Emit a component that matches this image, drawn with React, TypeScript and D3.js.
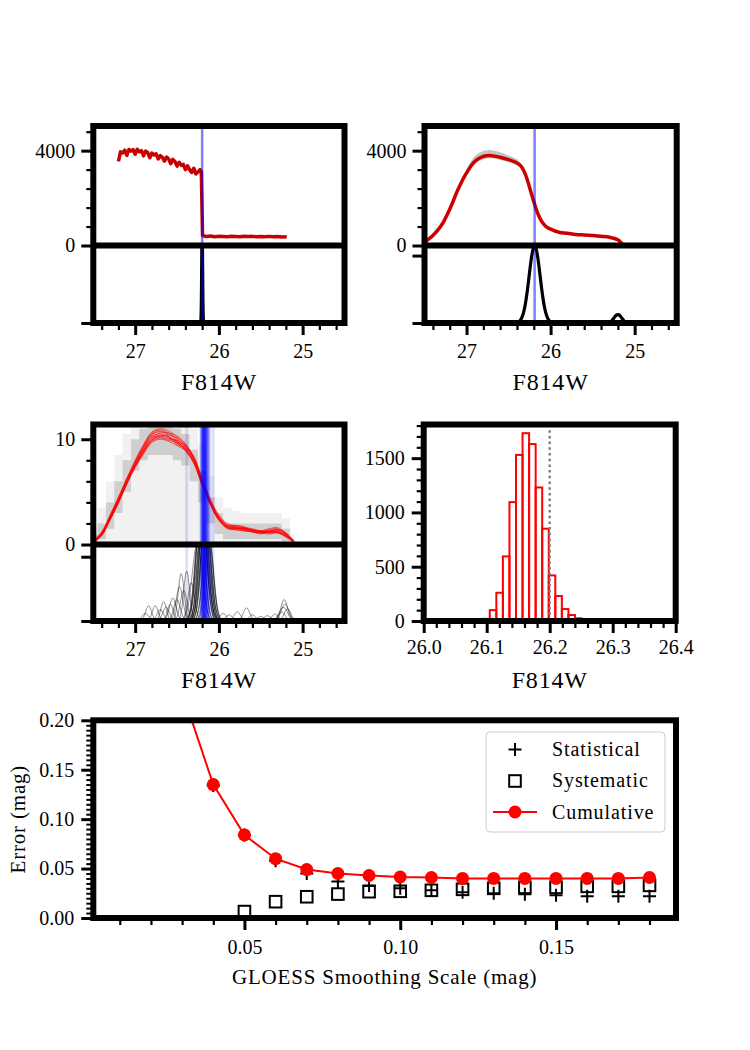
import React, { useRef, useEffect } from 'react';
import * as d3 from 'd3';

type Peak = [number, number, number]; // centre (mag), height, sigma (mag)

const SERIF = '"Liberation Serif", "Times New Roman", serif';

// Shared magnitude grid (bright to faint) and F814W ticks
const MAG_GRID = [27.5, 27.4, 27.3, 27.2, 27.1, 27.0, 26.9, 26.8, 26.7, 26.6, 26.5, 26.4, 26.3, 26.2, 26.1, 26.0, 25.9, 25.8, 25.7, 25.6, 25.5, 25.4, 25.3, 25.2, 25.1];
const MAG_TICKS = [27, 26, 25];
const MAG_MINOR = [27.4, 27.2, 26.8, 26.6, 26.4, 26.2, 25.8, 25.6, 25.4, 25.2, 24.8, 24.6];

// Edge-detector kernel profile, sampled from -3 to +3 sigma
const BUMP_T = [-3, -2.75, -2.5, -2.25, -2, -1.75, -1.5, -1.25, -1, -0.75, -0.5, -0.25, 0, 0.25, 0.5, 0.75, 1, 1.25, 1.5, 1.75, 2, 2.25, 2.5, 2.75, 3];
const BUMP_SHAPE = [0.011, 0.023, 0.044, 0.08, 0.135, 0.216, 0.325, 0.458, 0.607, 0.755, 0.882, 0.969, 1, 0.969, 0.882, 0.755, 0.607, 0.458, 0.325, 0.216, 0.135, 0.08, 0.044, 0.023, 0.011];

// Top left: unsmoothed luminosity function, one realisation
const TL_MAG = [27.2, 27.175, 27.15, 27.125, 27.1, 27.075, 27.05, 27.025, 27.0, 26.975, 26.95, 26.925, 26.9, 26.875, 26.85, 26.825, 26.8, 26.775, 26.75, 26.725, 26.7, 26.675, 26.65, 26.625, 26.6, 26.575, 26.55, 26.525, 26.5, 26.475, 26.45, 26.425, 26.4, 26.375, 26.35, 26.325, 26.3, 26.275, 26.25, 26.225, 26.21, 26.195, 26.15, 26.1, 26.05, 26.0, 25.95, 25.9, 25.85, 25.8, 25.75, 25.7, 25.65, 25.6, 25.55, 25.5, 25.45, 25.4, 25.35, 25.3, 25.25, 25.19];
const TL_COUNT = [3550, 3950, 3900, 4020, 3800, 4050, 3980, 4040, 3850, 4060, 3950, 4000, 3780, 3980, 3920, 3700, 3900, 3820, 3870, 3650, 3790, 3720, 3560, 3730, 3650, 3450, 3630, 3540, 3350, 3510, 3380, 3420, 3200, 3360, 3200, 3080, 3260, 3020, 3100, 3200, 3100, 420, 380, 400, 370, 390, 380, 370, 390, 380, 370, 390, 375, 385, 370, 380, 370, 385, 365, 375, 360, 370];
const TL_EDGE = 26.2;
const TL_PEAKS: Peak[] = [[26.2, 1.4, 0.006]];

// Top right: GLOESS-smoothed luminosity function with spread of realisations
const TR_MAG = [27.5, 27.4, 27.3, 27.2, 27.1, 27.0, 26.9, 26.8, 26.7, 26.6, 26.5, 26.4, 26.35, 26.3, 26.25, 26.2, 26.15, 26.1, 26.05, 26.0, 25.9, 25.8, 25.7, 25.6, 25.5, 25.4, 25.3, 25.2, 25.15, 25.12];
const TR_COUNT = [140, 420, 840, 1530, 2370, 3060, 3550, 3760, 3790, 3720, 3620, 3480, 3340, 3000, 2450, 1850, 1330, 980, 790, 690, 560, 515, 465, 445, 420, 390, 350, 240, 80, 0];
const TR_GRAY_HI = [190, 480, 910, 1610, 2480, 3220, 3770, 3990, 4020, 3930, 3800, 3640, 3440, 3090, 2540, 1930, 1400, 1030, 830, 730, 600, 550, 500, 480, 450, 420, 380, 270, 110, 20];
const TR_GRAY_LO = [100, 370, 780, 1460, 2280, 2950, 3420, 3640, 3680, 3610, 3520, 3380, 3260, 2920, 2370, 1780, 1270, 930, 750, 650, 520, 480, 430, 410, 390, 360, 320, 210, 50, 0];
const TR_EDGE = 26.19;
const TR_PEAKS: Peak[] = [[26.19, 0.99, 0.066], [25.2, 0.11, 0.045]];

// Middle left: bootstrap realisations
const ML_CURVES = [
  [0.3, 1.1, 2.7, 4.4, 6.3, 8.0, 9.5, 10.7, 11.0, 10.8, 10.2, 9.5, 8.2, 6.0, 3.9, 2.4, 1.7, 1.6, 1.4, 1.2, 1.1, 1.2, 1.2, 0.8, 0.2],
  [0.2, 0.9, 2.4, 4.0, 5.8, 7.4, 8.8, 9.9, 10.2, 10.0, 9.9, 9.3, 8.1, 5.8, 3.8, 2.3, 1.5, 1.4, 1.3, 1.2, 1.1, 1.3, 1.4, 1.0, 0.2],
  [0.3, 1.0, 2.6, 4.2, 6.0, 7.6, 9.0, 10.1, 10.6, 10.5, 9.8, 8.9, 7.7, 5.6, 3.7, 2.4, 1.8, 1.7, 1.6, 1.4, 1.3, 1.1, 1.2, 0.9, 0.3],
  [0.4, 1.2, 2.8, 4.5, 6.2, 7.8, 9.2, 10.3, 10.5, 10.2, 9.6, 9.2, 8.3, 6.2, 4.2, 2.7, 1.9, 1.7, 1.5, 1.2, 1.0, 1.2, 1.4, 1.1, 0.3],
  [0.2, 0.8, 2.3, 3.9, 5.7, 7.3, 8.6, 9.7, 10.0, 9.8, 9.4, 8.9, 7.9, 5.9, 4.1, 2.6, 1.7, 1.5, 1.6, 1.5, 1.3, 1.3, 1.2, 0.8, 0.2],
  [0.3, 1.0, 2.5, 4.1, 6.0, 7.7, 9.2, 10.4, 10.8, 10.3, 9.7, 9.0, 7.8, 5.7, 3.9, 2.5, 1.8, 1.8, 1.7, 1.3, 1.2, 1.4, 1.5, 1.0, 0.3],
  [0.3, 1.1, 2.6, 4.3, 6.1, 7.6, 9.0, 10.2, 10.3, 10.4, 10.1, 9.4, 8.2, 6.1, 4.0, 2.4, 1.6, 1.5, 1.4, 1.3, 1.2, 1.2, 1.3, 0.9, 0.2],
  [0.2, 0.9, 2.4, 4.0, 5.9, 7.5, 8.9, 9.9, 10.4, 10.2, 9.5, 9.1, 8.0, 5.9, 4.0, 2.6, 1.8, 1.6, 1.5, 1.4, 1.2, 1.1, 1.1, 0.7, 0.2],
  [0.3, 1.0, 2.5, 4.2, 6.1, 7.9, 9.4, 10.6, 10.9, 10.6, 10.0, 9.2, 7.9, 5.8, 3.8, 2.3, 1.6, 1.5, 1.5, 1.4, 1.3, 1.5, 1.6, 1.1, 0.3],
  [0.2, 1.0, 2.5, 4.1, 5.9, 7.4, 8.7, 9.8, 10.1, 9.9, 9.7, 9.4, 8.4, 6.3, 4.3, 2.8, 2.0, 1.8, 1.6, 1.3, 1.1, 1.0, 1.1, 0.8, 0.2],
  [0.3, 1.1, 2.7, 4.4, 6.2, 7.8, 9.3, 10.5, 10.7, 10.6, 10.3, 9.6, 8.1, 5.9, 3.9, 2.5, 1.7, 1.6, 1.5, 1.3, 1.2, 1.3, 1.4, 1.0, 0.2],
  [0.2, 0.9, 2.4, 4.0, 5.8, 7.5, 8.9, 10.0, 10.3, 10.1, 9.8, 9.0, 7.8, 5.7, 3.8, 2.4, 1.6, 1.4, 1.3, 1.2, 1.2, 1.2, 1.2, 0.8, 0.2],
];
const ML_GRAY_TOP = [1.5, 3.5, 6, 8.5, 10.5, 12, 12, 12, 12, 12, 12, 12, 11, 9.5, 6.5, 4.5, 3.5, 3.2, 3.0, 3.0, 3.0, 3.0, 3.0, 2.5, 1.0];
const ML_GRAY_LO = [0, 0.5, 1.5, 3, 5, 7, 8, 8.5, 8.5, 8.5, 8, 7.5, 6, 4, 2, 1, 0.5, 0.5, 0.5, 0.5, 0.5, 0.5, 0.5, 0.3, 0];
const ML_GRAY_HI = [1, 2, 4, 6, 8, 10, 11, 11.5, 11.5, 11.5, 11, 10.5, 9, 7, 4.5, 3, 2, 2, 2, 2, 2, 2, 2, 1.5, 0.5];
const ML_EDGES = [
  26.385, 26.215, 26.21, 26.205, 26.2, 26.2, 26.195, 26.19, 26.19, 26.185, 26.185, 26.18, 26.18, 26.18,
  26.175, 26.175, 26.17, 26.17, 26.165, 26.165, 26.16, 26.16, 26.155, 26.15, 26.15, 26.145, 26.14,
  26.135, 26.13, 26.12, 26.115, 26.07,
];
const ML_PEAKS: Peak[] = [
  [26.23, 1.3, 0.055], [26.22, 1.5, 0.05], [26.21, 1.4, 0.06], [26.2, 1.6, 0.05], [26.2, 1.2, 0.065],
  [26.19, 1.5, 0.055], [26.19, 1.3, 0.05], [26.18, 1.7, 0.05], [26.18, 1.4, 0.06], [26.17, 1.5, 0.055],
  [26.17, 1.2, 0.05], [26.16, 1.6, 0.05], [26.16, 1.3, 0.06], [26.15, 1.4, 0.055], [26.14, 1.2, 0.05],
  [26.13, 1.3, 0.055], [26.12, 1.1, 0.05], [26.24, 1.1, 0.05], [26.26, 1.0, 0.06], [26.11, 1.0, 0.05],
  [26.385, 0.65, 0.035], [26.45, 0.62, 0.035], [26.47, 0.45, 0.04], [26.42, 0.4, 0.04], [26.33, 0.5, 0.04],
  [26.55, 0.3, 0.04], [26.58, 0.22, 0.035], [26.63, 0.18, 0.04], [26.7, 0.15, 0.04], [26.76, 0.2, 0.035],
  [26.84, 0.2, 0.035], [26.88, 0.1, 0.04], [26.66, 0.25, 0.035], [26.5, 0.28, 0.04],
  [25.95, 0.1, 0.04], [25.88, 0.08, 0.04], [25.78, 0.12, 0.04], [25.67, 0.17, 0.04], [25.6, 0.08, 0.04],
  [25.5, 0.06, 0.04], [25.42, 0.07, 0.04], [25.33, 0.09, 0.04], [25.22, 0.28, 0.04], [25.21, 0.22, 0.045],
  [25.18, 0.16, 0.04], [25.25, 0.12, 0.04], [25.23, 0.18, 0.05],
];

// Middle right: distribution of recovered TRGB magnitudes
const HIST_EDGES = [26.0945, 26.1049, 26.1153, 26.1257, 26.1361, 26.1465, 26.1569, 26.1673, 26.1777, 26.1881, 26.1985, 26.2089, 26.2193, 26.2297, 26.2401, 26.2505];
const HIST_COUNTS = [20, 100, 260, 595, 1095, 1530, 1730, 1630, 1230, 850, 420, 230, 110, 55, 25];
const HIST_REF = 26.2;

// Bottom: error budget against smoothing scale
const SCALE = [0.03, 0.04, 0.05, 0.06, 0.07, 0.08, 0.09, 0.10, 0.11, 0.12, 0.13, 0.14, 0.15, 0.16, 0.17, 0.18];
const STATISTICAL = [0.229, 0.134, 0.084, 0.058, 0.045, 0.037, 0.033, 0.030, 0.028, 0.026, 0.025, 0.024, 0.023, 0.022, 0.022, 0.022];
const SYS_SCALE = [0.05, 0.06, 0.07, 0.08, 0.09, 0.10, 0.11, 0.12, 0.13, 0.14, 0.15, 0.16, 0.17, 0.18];
const SYSTEMATIC = [0.0065, 0.0165, 0.0215, 0.0242, 0.0266, 0.027, 0.028, 0.029, 0.030, 0.031, 0.031, 0.032, 0.032, 0.033];
const CUMULATIVE = [0.229, 0.135, 0.084, 0.060, 0.049, 0.045, 0.043, 0.0415, 0.041, 0.040, 0.040, 0.040, 0.040, 0.040, 0.040, 0.041];

interface Box { x0: number; x1: number; y0: number; y1: number; ym?: number }
const TL_BOX: Box = { x0: 93.3, x1: 344.5, y0: 126, ym: 245.5, y1: 323 };
const TR_BOX: Box = { x0: 424.5, x1: 676.7, y0: 126, ym: 245.5, y1: 323 };
const ML_BOX: Box = { x0: 93.3, x1: 344.5, y0: 424.5, ym: 544.5, y1: 621 };
const MR_BOX: Box = { x0: 423.7, x1: 675.7, y0: 424.5, y1: 621 };
const BT_BOX: Box = { x0: 93.3, x1: 676, y0: 720.3, y1: 918 };

const App: React.FC = () => {
  const svgRef = useRef<SVGSVGElement>(null);

  useEffect(() => {
    if (!svgRef.current) return;
    const svg = d3.select(svgRef.current);
    svg.selectAll('*').remove();
    const defs = svg.append('defs');

    let clipId = 0;
    const clipped = (x0: number, y0: number, x1: number, y1: number) => {
      const id = `clip-${clipId++}`;
      defs.append('clipPath').attr('id', id)
        .append('rect').attr('x', x0).attr('y', y0).attr('width', x1 - x0).attr('height', y1 - y0);
      return svg.append('g').attr('clip-path', `url(#${id})`);
    };

    const addAxis = (gen: any, tx: number, ty: number, width: number, size = 20) => {
      const a = svg.append('g').attr('transform', `translate(${tx},${ty})`).call(gen);
      a.attr('font-family', SERIF);
      a.select('.domain').remove();
      a.selectAll('.tick line').attr('stroke', '#000').attr('stroke-width', width);
      a.selectAll('.tick text')
        .attr('font-family', SERIF).attr('font-size', size).attr('fill', '#000');
      return a;
    };

    const frame = (box: Box) => {
      svg.append('rect')
        .attr('x', box.x0).attr('y', box.y0)
        .attr('width', box.x1 - box.x0).attr('height', box.y1 - box.y0)
        .attr('fill', 'none').attr('stroke', '#000').attr('stroke-width', 6);
      if (box.ym !== undefined) {
        svg.append('line')
          .attr('x1', box.x0).attr('x2', box.x1).attr('y1', box.ym).attr('y2', box.ym)
          .attr('stroke', '#000').attr('stroke-width', 6);
      }
    };

    const label = (text: string, x: number, y: number, size: number, rotate = false) => {
      const t = svg.append('text')
        .attr('text-anchor', 'middle')
        .attr('font-family', SERIF).attr('font-size', size).attr('fill', '#000')
        .attr('letter-spacing', 0.8)
        .text(text);
      if (rotate) t.attr('transform', `translate(${x},${y}) rotate(-90)`);
      else t.attr('x', x).attr('y', y);
    };

    const bumpLine = (x: d3.ScaleLinear<number, number>, y: d3.ScaleLinear<number, number>) =>
      (p: Peak) => d3.line<number>()
        .x((_, i) => x(p[0] + BUMP_T[i] * p[2]))
        .y((v) => y(p[1] * v))
        .curve(d3.curveCatmullRom)(BUMP_SHAPE);

    const none = () => '';

    // Frame, ticks and label for the split luminosity-function panels
    const splitAxes = (
      box: Box,
      x: d3.ScaleLinear<number, number>,
      yU: d3.ScaleLinear<number, number>,
      yL: d3.ScaleLinear<number, number>,
      uMajor: number[], uMinor: number[], lowTicks: number[],
    ) => {
      frame(box);
      addAxis(d3.axisBottom(x).tickValues(MAG_TICKS).tickSize(12).tickPadding(9).tickFormat(d3.format('d')), 0, box.y1, 3);
      addAxis(d3.axisBottom(x).tickValues(MAG_MINOR).tickSize(7).tickFormat(none), 0, box.y1, 2.2);
      addAxis(d3.axisLeft(yU).tickValues(uMajor).tickSize(12).tickPadding(6).tickFormat(d3.format('d')), box.x0, 0, 3);
      addAxis(d3.axisLeft(yU).tickValues(uMinor).tickSize(7).tickFormat(none), box.x0, 0, 2.2);
      addAxis(d3.axisLeft(yL).tickValues(lowTicks).tickSize(12).tickFormat(none), box.x0, 0, 3);
      label('F814W', (box.x0 + box.x1) / 2, box.y1 + 67, 24);
    };

    // ---- top left ----
    {
      const b = TL_BOX;
      const x = d3.scaleLinear().domain([27.5, 24.5]).range([b.x0, b.x1]);
      const yU = d3.scaleLinear().domain([0, 5040]).range([b.ym!, b.y0]);
      const yL = d3.scaleLinear().domain([0, 1]).range([b.y1, b.ym!]);

      const up = clipped(b.x0, b.y0, b.x1, b.ym!);
      up.append('path')
        .datum(d3.zip(TL_MAG, TL_COUNT))
        .attr('d', d3.line<number[]>().x(d => x(d[0])).y(d => yU(d[1])))
        .attr('fill', 'none').attr('stroke', '#c80000').attr('stroke-width', 3.5)
        .attr('stroke-linejoin', 'round');

      const low = clipped(b.x0, b.ym!, b.x1, b.y1);
      low.selectAll('path').data(TL_PEAKS).join('path')
        .attr('d', bumpLine(x, yL))
        .attr('fill', 'none').attr('stroke', '#000').attr('stroke-width', 3);

      const all = clipped(b.x0, b.y0, b.x1, b.y1);
      all.append('line')
        .attr('x1', x(TL_EDGE)).attr('x2', x(TL_EDGE)).attr('y1', b.y0).attr('y2', b.y1)
        .attr('stroke', '#0000ff').attr('stroke-opacity', 0.5).attr('stroke-width', 2.5);

      splitAxes(b, x, yU, yL, [0, 4000], [800, 1600, 2400, 3200, 4800], [0]);
    }

    // ---- top right ----
    {
      const b = TR_BOX;
      const x = d3.scaleLinear().domain([27.5, 24.5]).range([b.x0, b.x1]);
      const yU = d3.scaleLinear().domain([0, 5040]).range([b.ym!, b.y0]);
      const yL = d3.scaleLinear().domain([0, 1]).range([b.y1, b.ym!]);

      const up = clipped(b.x0, b.y0, b.x1, b.ym!);
      up.append('path')
        .datum(d3.range(TR_MAG.length))
        .attr('d', d3.area<number>().x(i => x(TR_MAG[i])).y0(i => yU(TR_GRAY_LO[i])).y1(i => yU(TR_GRAY_HI[i])).curve(d3.curveCatmullRom))
        .attr('fill', '#c4c4c4');
      up.append('path')
        .datum(d3.zip(TR_MAG, TR_COUNT))
        .attr('d', d3.line<number[]>().x(d => x(d[0])).y(d => yU(d[1])).curve(d3.curveCatmullRom))
        .attr('fill', 'none').attr('stroke', '#cc0000').attr('stroke-width', 3.5);

      const low = clipped(b.x0, b.ym!, b.x1, b.y1);
      low.selectAll('path').data(TR_PEAKS).join('path')
        .attr('d', bumpLine(x, yL))
        .attr('fill', 'none').attr('stroke', '#000').attr('stroke-width', 3.2);

      const all = clipped(b.x0, b.y0, b.x1, b.y1);
      all.append('line')
        .attr('x1', x(TR_EDGE)).attr('x2', x(TR_EDGE)).attr('y1', b.y0).attr('y2', b.y1)
        .attr('stroke', '#0000ff').attr('stroke-opacity', 0.5).attr('stroke-width', 2.5);

      splitAxes(b, x, yU, yL, [0, 4000], [800, 1600, 2400, 3200, 4800], [0, 0.87]);
    }

    // ---- middle left ----
    {
      const b = ML_BOX;
      const x = d3.scaleLinear().domain([27.5, 24.5]).range([b.x0, b.x1]);
      const yU = d3.scaleLinear().domain([0, 11.4]).range([b.ym!, b.y0]);
      const yL = d3.scaleLinear().domain([0, 1]).range([b.y1, b.ym!]);
      const idx = d3.range(MAG_GRID.length);

      const up = clipped(b.x0, b.y0, b.x1, b.ym!);
      up.append('path')
        .datum(idx)
        .attr('d', d3.area<number>().x(i => x(MAG_GRID[i])).y0(yU(0)).y1(i => yU(ML_GRAY_TOP[i])).curve(d3.curveStep))
        .attr('fill', '#000').attr('fill-opacity', 0.055);
      up.append('path')
        .datum(idx)
        .attr('d', d3.area<number>().x(i => x(MAG_GRID[i])).y0(i => yU(ML_GRAY_LO[i])).y1(i => yU(ML_GRAY_HI[i])).curve(d3.curveStep))
        .attr('fill', '#000').attr('fill-opacity', 0.14);
      up.selectAll('path.rl').data(ML_CURVES).join('path')
        .attr('class', 'rl')
        .attr('d', vals => d3.line<number>().x((_, i) => x(MAG_GRID[i])).y(v => yU(v)).curve(d3.curveCatmullRom)(vals))
        .attr('fill', 'none').attr('stroke', '#ff0000').attr('stroke-opacity', 0.7).attr('stroke-width', 0.9);

      const low = clipped(b.x0, b.ym!, b.x1, b.y1);
      low.selectAll('path').data(ML_PEAKS).join('path')
        .attr('d', bumpLine(x, yL))
        .attr('fill', 'none').attr('stroke', '#000').attr('stroke-opacity', 0.55).attr('stroke-width', 0.8);

      const all = clipped(b.x0, b.y0, b.x1, b.y1);
      all.selectAll('line').data(ML_EDGES).join('line')
        .attr('x1', d => x(d)).attr('x2', d => x(d)).attr('y1', b.y0).attr('y2', b.y1)
        .attr('stroke', '#0000ff').attr('stroke-opacity', 0.13).attr('stroke-width', 3);

      splitAxes(b, x, yU, yL, [0, 10], [2, 4, 6, 8], [0, 0.84]);
    }

    // ---- middle right ----
    {
      const b = MR_BOX;
      const x = d3.scaleLinear().domain([26.0, 26.4]).range([b.x0, b.x1]);
      const y = d3.scaleLinear().domain([0, 1810]).range([b.y1, b.y0]);

      const g = clipped(b.x0, b.y0, b.x1, b.y1);
      g.selectAll('rect').data(HIST_COUNTS).join('rect')
        .attr('x', (_, i) => x(HIST_EDGES[i]))
        .attr('width', (_, i) => x(HIST_EDGES[i + 1]) - x(HIST_EDGES[i]))
        .attr('y', d => y(d))
        .attr('height', d => y(0) - y(d))
        .attr('fill', 'none').attr('stroke', '#ff0000').attr('stroke-width', 2);
      g.append('line')
        .attr('x1', x(HIST_REF)).attr('x2', x(HIST_REF)).attr('y1', b.y0).attr('y2', b.y1)
        .attr('stroke', '#808080').attr('stroke-width', 2.5).attr('stroke-dasharray', '2.5,3.2');

      frame(b);
      addAxis(d3.axisBottom(x).tickValues([26.0, 26.1, 26.2, 26.3, 26.4]).tickSize(12).tickPadding(7).tickFormat(d3.format('.1f')), 0, b.y1, 3);
      addAxis(d3.axisBottom(x).tickValues(d3.range(26.02, 26.4, 0.02).filter(v => Math.abs(v * 10 - Math.round(v * 10)) > 0.01)).tickSize(7).tickFormat(none), 0, b.y1, 2.2);
      addAxis(d3.axisLeft(y).tickValues([0, 500, 1000, 1500]).tickSize(12).tickPadding(7).tickFormat(d3.format('d')), b.x0, 0, 3);
      addAxis(d3.axisLeft(y).tickValues(d3.range(100, 1810, 100).filter(v => v % 500 !== 0)).tickSize(7).tickFormat(none), b.x0, 0, 2.2);
      label('F814W', (b.x0 + b.x1) / 2, b.y1 + 67, 24);
    }

    // ---- bottom: error budget ----
    {
      const b = BT_BOX;
      const x = d3.scaleLinear().domain([0.0015, 0.1885]).range([b.x0, b.x1]);
      const y = d3.scaleLinear().domain([0, 0.2]).range([b.y1, b.y0]);
      const g = clipped(b.x0, b.y0, b.x1, b.y1);

      g.selectAll('path.stat').data(d3.zip(SCALE, STATISTICAL)).join('path')
        .attr('class', 'stat')
        .attr('d', d => `M${x(d[0]) - 6.5},${y(d[1])}H${x(d[0]) + 6.5}M${x(d[0])},${y(d[1]) - 6.5}V${y(d[1]) + 6.5}`)
        .attr('stroke', '#000').attr('stroke-width', 2).attr('fill', 'none');

      g.selectAll('rect.sys').data(d3.zip(SYS_SCALE, SYSTEMATIC)).join('rect')
        .attr('class', 'sys')
        .attr('x', d => x(d[0]) - 5.8).attr('y', d => y(d[1]) - 5.8)
        .attr('width', 11.6).attr('height', 11.6)
        .attr('fill', 'none').attr('stroke', '#000').attr('stroke-width', 2);

      g.append('path')
        .datum(d3.zip(SCALE, CUMULATIVE))
        .attr('d', d3.line<number[]>().x(d => x(d[0])).y(d => y(d[1])))
        .attr('fill', 'none').attr('stroke', '#ff0000').attr('stroke-width', 2);
      g.selectAll('circle').data(d3.zip(SCALE, CUMULATIVE)).join('circle')
        .attr('cx', d => x(d[0])).attr('cy', d => y(d[1])).attr('r', 6.5)
        .attr('fill', '#ff0000');

      frame(b);
      addAxis(d3.axisBottom(x).tickValues([0.05, 0.1, 0.15]).tickSize(12).tickPadding(10).tickFormat(d3.format('.2f')), 0, b.y1, 3);
      addAxis(d3.axisBottom(x).tickValues([0.01, 0.02, 0.03, 0.04, 0.06, 0.07, 0.08, 0.09, 0.11, 0.12, 0.13, 0.14, 0.16, 0.17, 0.18]).tickSize(7).tickFormat(none), 0, b.y1, 2.2);
      addAxis(d3.axisLeft(y).tickValues([0, 0.05, 0.1, 0.15, 0.2]).tickSize(12).tickPadding(7).tickFormat(d3.format('.2f')), b.x0, 0, 3);
      addAxis(d3.axisLeft(y).tickValues(d3.range(1, 40).filter(k => k % 10 !== 0).map(k => k * 0.005)).tickSize(7).tickFormat(none), b.x0, 0, 2);
      label('GLOESS Smoothing Scale (mag)', (b.x0 + b.x1) / 2, 984, 21);
      label('Error (mag)', 25, (b.y0 + b.y1) / 2, 21, true);

      // legend
      const lg = svg.append('g').attr('font-family', SERIF).attr('font-size', 20);
      lg.append('rect')
        .attr('x', 486).attr('y', 732).attr('width', 179).attr('height', 100).attr('rx', 4)
        .attr('fill', '#fff').attr('fill-opacity', 0.8).attr('stroke', '#cccccc').attr('stroke-width', 1);
      lg.append('path')
        .attr('d', 'M508.5,749.5H521.5M515,743V756')
        .attr('stroke', '#000').attr('stroke-width', 2);
      lg.append('rect')
        .attr('x', 509.2).attr('y', 775.2).attr('width', 11.6).attr('height', 11.6)
        .attr('fill', 'none').attr('stroke', '#000').attr('stroke-width', 2);
      lg.append('line')
        .attr('x1', 493).attr('x2', 537).attr('y1', 812).attr('y2', 812)
        .attr('stroke', '#ff0000').attr('stroke-width', 2);
      lg.append('circle').attr('cx', 515).attr('cy', 812).attr('r', 6.5).attr('fill', '#ff0000');
      const names = ['Statistical', 'Systematic', 'Cumulative'];
      lg.selectAll('text').data(names).join('text')
        .attr('x', 552).attr('y', (_, i) => 755.5 + i * 31.5)
        .attr('letter-spacing', 0.9)
        .attr('fill', '#000')
        .text(d => d);
    }
  }, []);

  return (
    <svg
      ref={svgRef}
      width={750}
      height={1050}
      style={{ position: 'absolute', left: 0, top: 0, background: '#fff' }}
    />
  );
};

export default App;
